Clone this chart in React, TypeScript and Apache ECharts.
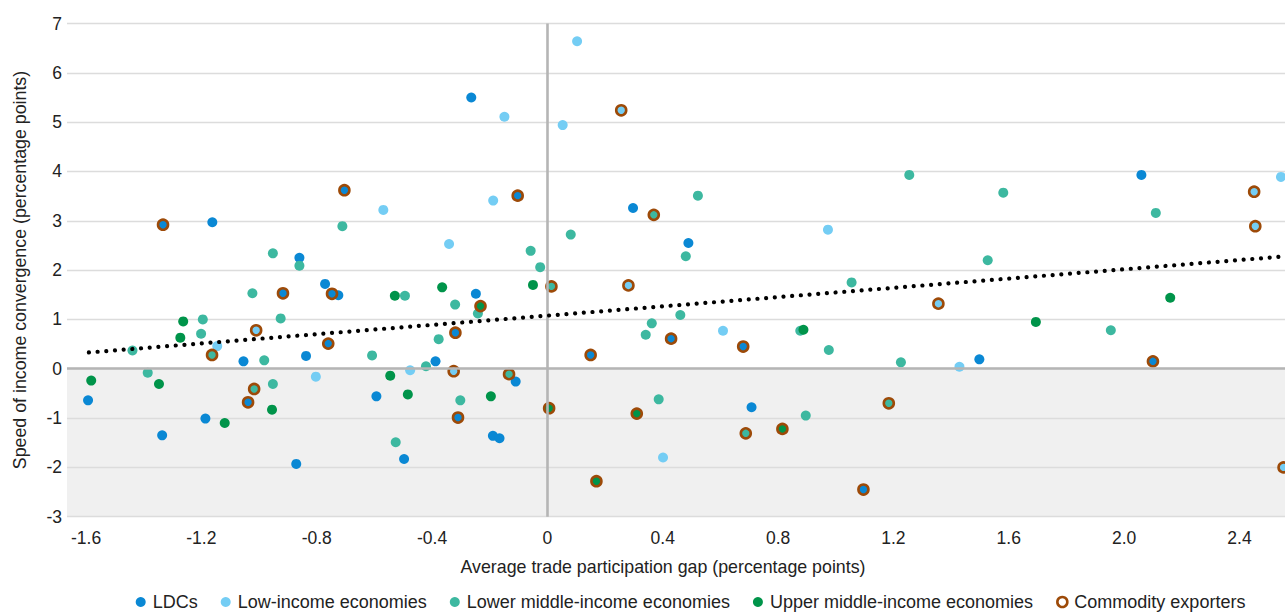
import React, { useEffect, useRef } from "react";
import * as echarts from "echarts";

// ---------- data ----------
const xTickValues = [-1.6, -1.2, -0.8, -0.4, 0, 0.4, 0.8, 1.2, 1.6, 2.0, 2.4];
const xTickLabels = ["-1.6", "-1.2", "-0.8", "-0.4", "0", "0.4", "0.8", "1.2", "1.6", "2.0", "2.4"];

const seriesNames = [
  "LDCs",
  "Low-income economies",
  "Lower middle-income economies",
  "Upper middle-income economies",
  "Commodity exporters",
];

const ldc = [
  [-1.162, 2.97], [-0.86, 2.25], [-0.771, 1.72], [-0.725, 1.49], [-1.054, 0.15],
  [-0.837, 0.26], [-1.593, -0.64], [-1.186, -1.01], [-1.336, -1.35], [-0.871, -1.93],
  [-0.264, 5.5], [0.297, 3.26], [-0.248, 1.52], [-0.388, 0.15], [-0.11, -0.26],
  [-0.593, -0.56], [-0.189, -1.36], [-0.166, -1.41], [-0.497, -1.83], [0.489, 2.55],
  [0.708, -0.78], [2.06, 3.93], [1.498, 0.19],
];
const ldcCommodity = [
  [-1.333, 2.92], [-0.917, 1.53], [-0.747, 1.52], [-0.76, 0.51], [-1.038, -0.68],
  [-0.704, 3.62], [-0.103, 3.51], [-0.319, 0.73], [-0.31, -0.99], [0.15, 0.28],
  [0.429, 0.61], [0.679, 0.45], [1.096, -2.45], [2.1, 0.15],
];

const lowIncome = [
  [-1.145, 0.46], [-0.803, -0.16], [0.103, 6.64], [-0.149, 5.11], [0.053, 4.94],
  [-0.569, 3.22], [-0.188, 3.41], [-0.341, 2.53], [-0.476, -0.03], [0.973, 2.82],
  [0.609, 0.77], [0.401, -1.8], [2.544, 3.89], [1.429, 0.04],
];
const lowIncomeCommodity = [
  [-1.01, 0.78], [0.256, 5.24], [0.281, 1.69], [-0.325, -0.05], [1.356, 1.32],
  [2.451, 3.59], [2.455, 2.89], [2.553, -2.0],
];

const lowerMiddle = [
  [-0.952, 2.34], [-0.86, 2.09], [-1.023, 1.53], [-1.195, 1.0], [-0.925, 1.02],
  [-1.201, 0.71], [-1.439, 0.37], [-0.982, 0.17], [-1.386, -0.08], [-0.952, -0.31],
  [-0.711, 2.89], [0.081, 2.72], [-0.058, 2.39], [-0.025, 2.06], [-0.494, 1.48],
  [-0.32, 1.3], [-0.241, 1.12], [-0.377, 0.6], [-0.608, 0.27], [-0.421, 0.05],
  [-0.302, -0.64], [-0.526, -1.49], [0.522, 3.51], [0.48, 2.28], [1.255, 3.93],
  [1.055, 1.75], [0.362, 0.92], [0.341, 0.69], [0.461, 1.09], [0.877, 0.77],
  [0.976, 0.38], [1.226, 0.13], [0.386, -0.62], [0.896, -0.95], [1.581, 3.57],
  [2.11, 3.16], [1.527, 2.2], [1.954, 0.78],
];
const lowerMiddleCommodity = [
  [-1.163, 0.28], [-1.017, -0.41], [0.014, 1.67], [-0.133, -0.11], [0.369, 3.12],
  [1.184, -0.7], [0.688, -1.31],
];

const upperMiddle = [
  [-1.263, 0.96], [-1.273, 0.63], [-1.582, -0.24], [-1.347, -0.31], [-0.955, -0.83],
  [-1.119, -1.1], [-0.529, 1.48], [-0.365, 1.65], [-0.05, 1.7], [-0.545, -0.14],
  [-0.484, -0.52], [-0.196, -0.56], [0.888, 0.79], [2.16, 1.44], [1.694, 0.95],
];
const upperMiddleCommodity = [
  [-0.232, 1.27], [0.006, -0.8], [0.17, -2.28], [0.31, -0.91], [0.815, -1.22],
];

// fitted trend line endpoints
const trendLine = [
  [-1.59, 0.33],
  [2.54, 2.27],
];

// ---------- styles ----------
const FONT = "'Liberation Sans', Arial, Helvetica, sans-serif";
const TEXT = "#222222";
const C_LDC = "#0a88d4";
const C_LOW = "#74cdf4";
const C_LOWER = "#3db8a0";
const C_UPPER = "#00944a";
const C_COMM = "#9d4a08";

export default function App() {
  const ref = useRef<HTMLDivElement>(null);

  useEffect(() => {
    if (!ref.current) return;
    const chart = echarts.init(ref.current, undefined, { renderer: "svg" });

    const dot = (name: string, color: string, data: number[][]) => ({
      name,
      type: "scatter",
      data,
      symbol: "circle",
      symbolSize: 10,
      itemStyle: { color, opacity: 1 },
      z: 3,
      silent: true,
    });

    const areaColors: string[] = [];
    for (let i = 0; i < 10; i++) areaColors.push(i < 3 ? "#f0f0f0" : "rgba(255,255,255,0)");

    const option: any = {
      animation: false,
      textStyle: { fontFamily: FONT },
      grid: { left: 67, right: 0, top: 23.5, bottom: 95.3, containLabel: false },
      xAxis: {
        type: "value",
        min: -1.666,
        max: 2.558,
        axisLine: { show: false },
        axisTick: { show: false },
        splitLine: { show: false },
        axisLabel: {
          customValues: xTickValues,
          showMinLabel: true,
          showMaxLabel: true,
          fontSize: 17.5,
          color: TEXT,
          margin: 12,
          fontFamily: FONT,
          formatter: (v: number) => {
            let best = 0;
            for (let i = 0; i < xTickValues.length; i++) {
              if (Math.abs(xTickValues[i] - v) < Math.abs(xTickValues[best] - v)) best = i;
            }
            return xTickLabels[best];
          },
        },
      },
      yAxis: {
        type: "value",
        min: -3,
        max: 7,
        interval: 1,
        axisLine: { show: false },
        axisTick: { show: false },
        splitLine: { show: true, lineStyle: { color: "#dcdcdc", width: 1.3 } },
        splitArea: { show: true, areaStyle: { color: areaColors } },
        axisLabel: { fontSize: 17.5, color: TEXT, margin: 5, fontFamily: FONT },
      },
      legend: {
        left: 130.7,
        top: 588,
        itemWidth: 10,
        itemHeight: 10,
        itemGap: 23,
        icon: "circle",
        selectedMode: false,
        textStyle: { fontSize: 18, color: TEXT, fontFamily: FONT, padding: [0, 0, 0, 2] },
        data: [
          { name: seriesNames[0] },
          { name: seriesNames[1] },
          { name: seriesNames[2] },
          { name: seriesNames[3] },
          {
            name: seriesNames[4],
            itemStyle: { color: "rgba(255,255,255,0)", borderColor: C_COMM, borderWidth: 2.6 },
          },
        ],
      },
      graphic: [
        {
          type: "text",
          x: 663,
          y: 566.7,
          silent: true,
          style: {
            text: "Average trade participation gap (percentage points)",
            fontSize: 17.8,
            fontFamily: FONT,
            fill: TEXT,
            align: "center",
            verticalAlign: "middle",
          },
        },
        {
          type: "text",
          x: 19.5,
          y: 270,
          rotation: Math.PI / 2,
          silent: true,
          style: {
            text: "Speed of income convergence (percentage points)",
            fontSize: 17.8,
            fontFamily: FONT,
            fill: TEXT,
            align: "center",
            verticalAlign: "middle",
          },
        },
      ],
      series: [
        {
          name: "axes",
          type: "scatter",
          data: [],
          z: 1,
          silent: true,
          markLine: {
            silent: true,
            symbol: "none",
            label: { show: false },
            lineStyle: { color: "#b5b5b5", width: 2.6, type: "solid" },
            data: [{ xAxis: 0 }, { yAxis: 0 }],
          },
        },
        dot(seriesNames[0], C_LDC, ldc.concat(ldcCommodity)),
        dot(seriesNames[1], C_LOW, lowIncome.concat(lowIncomeCommodity)),
        dot(seriesNames[2], C_LOWER, lowerMiddle.concat(lowerMiddleCommodity)),
        dot(seriesNames[3], C_UPPER, upperMiddle.concat(upperMiddleCommodity)),
        {
          name: seriesNames[4],
          type: "scatter",
          data: ldcCommodity.concat(lowIncomeCommodity, lowerMiddleCommodity, upperMiddleCommodity),
          symbol: "circle",
          symbolSize: 10,
          itemStyle: { color: "rgba(255,255,255,0)", borderColor: C_COMM, borderWidth: 2.6, opacity: 1 },
          z: 4,
          silent: true,
        },
        {
          name: "trend",
          type: "line",
          data: trendLine,
          symbol: "none",
          silent: true,
          z: 5,
          lineStyle: { color: "#000000", width: 4.2, type: [0.01, 8.7], cap: "round" },
        },
      ],
    };

    chart.setOption(option);
    return () => chart.dispose();
  }, []);

  return (
    <div
      ref={ref}
      style={{ position: "fixed", left: 0, top: 0, width: 1285, height: 612, background: "#ffffff" }}
    />
  );
}
